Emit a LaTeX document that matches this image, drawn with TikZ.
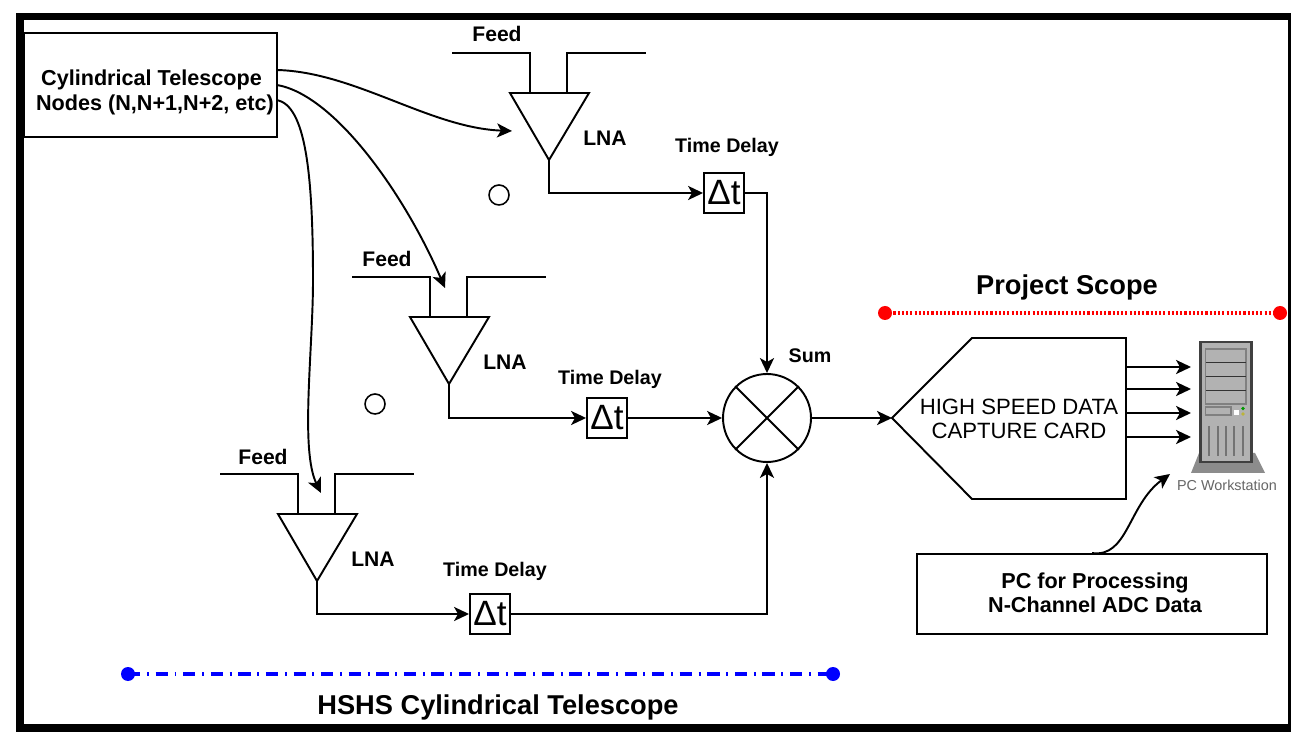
\documentclass[tikz,border=0pt]{standalone}
\usepackage{fontspec}
\setmainfont{Liberation Sans}
\usetikzlibrary{arrows.meta}
\tikzset{
    wire/.style={line width=1.1pt, black},
    sig/.style={wire, -{Stealth[length=8.5pt,width=8pt,inset=2.2pt]}},
    box/.style={draw, line width=1.1pt, inner sep=0pt},
    lbl/.style={font=\bfseries\fontsize{12}{13.8}\selectfont, align=center, inner sep=0pt},
    smalllbl/.style={font=\bfseries\fontsize{11.2}{13}\selectfont, inner sep=0pt},
    biglbl/.style={font=\bfseries\fontsize{15.5}{18}\selectfont, inner sep=0pt},
    dly/.style={box, minimum size=0.8cm, font=\fontsize{20}{20}\selectfont},
    spot/.style={draw, circle, line width=0.9pt, minimum size=0.4cm, inner sep=0pt},
    towerline/.style={line width=0.9pt, black!55},
}
\begin{document}
\begin{tikzpicture}[x=0.02cm, y=-0.02cm]
    \useasboundingbox (0,0) rectangle (1291,732);
    \fill[white] (0,0) rectangle (1291,732);
    \fill[black] (16,13) rectangle (1291,732);
    \fill[white] (24,20) rectangle (1288,724);

    % Nodos del telescopio
    \node[box, minimum width=5.06cm, minimum height=2.08cm] (nodes) at (150.5,85) {};
    \node[lbl, font=\bfseries\fontsize{12.3}{14.2}\selectfont] (nodeslab) at (155,92)
        {\hspace*{-4pt}Cylindrical Telescope\\Nodes (N,N+1,N+2, etc)};

    % Sumador
    \node[draw, circle, line width=1.1pt, minimum size=1.76cm, inner sep=0pt] (sum) at (767,418) {};
    \draw[wire] (sum.north west) -- (sum.south east);
    \draw[wire] (sum.north east) -- (sum.south west);
    \node[smalllbl] (sumlab) at (810,356) {Sum};

    % Ramas: alimentador, LNA y retardo
    \foreach \n/\xo/\yo/\xf/\yf/\xd/\yd/\xl/\yl in {1/549/93/497/34/724/193/727/146, 2/449/317/387/259/607/418/610/378, 3/317/514/263/457/490/614/495/570} {
        \coordinate (tip\n) at (\xo, \yo+67);
        \coordinate (left\n) at (\xo-39, \yo);
        \coordinate (right\n) at (\xo+40, \yo);
        \draw[wire] (left\n) -- (right\n) -- (tip\n) -- cycle;
        \draw[wire] (\xo-97, \yo-40) -- (\xo-19, \yo-40) -- (\xo-19, \yo);
        \draw[wire] (\xo+18, \yo) -- (\xo+18, \yo-40) -- (\xo+97, \yo-40);
        \node[lbl] (feed\n) at (\xf, \yf) {Feed};
        \node[lbl] (lna\n) at (\xo+56, \yo+45) {LNA};
        \node[dly] (dly\n) at (\xd, \yd) {Δt};
        \node[smalllbl] (dlylab\n) at (\xl, \yl+1) {Time Delay};
        \draw[sig] (tip\n) |- (dly\n);
    }

    % Salidas hacia el sumador
    \draw[sig] (dly1) -| (sum);
    \draw[sig] (dly2) -- (sum);
    \draw[sig] (dly3) -| (sum);

    % Puntos suspensivos
    \node[spot] (gap1) at (499,195) {};
    \node[spot] (gap2) at (375,404) {};

    % Curvas desde los nodos
    \coordinate (in1) at (512,131);
    \coordinate (in2) at (445,288);
    \coordinate (in3) at (321,493);
    \draw[sig] (277,70) .. controls (355,72) and (430,128) .. (in1);
    \draw[sig] (277,85) .. controls (335,95) and (405,195) .. (in2);
    \draw[sig] (277,100) .. controls (305,106) and (313,170) .. (313,280)
        .. controls (313,350) and (300,450) .. (in3);

    % Tarjeta de captura
    \node[lbl, font=\fontsize{12.6}{14}\selectfont] (card) at (1019,419) {HIGH SPEED DATA\\CAPTURE CARD};
    \coordinate (cardtip) at (892,418);
    \draw[wire] (cardtip) -- (972,338) -- (1126,338) -- (1126,499) -- (972,499) -- cycle;
    \draw[sig] (sum) -- (cardtip);

    % Estación de trabajo
    \fill[black!45] (1199,453) -- (1255,453) -- (1265,473) -- (1191,473) -- cycle;
    \filldraw[fill=black!30, draw=black!75, line width=1.2pt] (1200.5,342) rectangle (1251.5,462);
    \filldraw[fill=black!30, draw=black!50, line width=0.9pt] (1205.5,349) rectangle (1246,404);
    \foreach \yv in {362.5, 376.5, 390.5} {
        \draw[line width=0.7pt, black!80] (1205.5,\yv) -- (1246,\yv);
    }
    \filldraw[fill=black!30, draw=black!50, line width=0.9pt] (1205.5,407) rectangle (1231,415);
    \fill[white] (1234,410) rectangle (1239,415);
    \fill[green!60!black] (1243,408.5) circle (1.8);
    \fill[yellow!70!black] (1243,414) circle (1.8);
    \foreach \xv in {1209, 1218, 1226, 1234, 1243} {
        \draw[towerline] (\xv,426) -- (\xv,456);
    }
    \node[inner sep=0pt, text=black!60, font=\fontsize{8.2}{9}\selectfont] (pclab) at (1227,485) {PC Workstation};

    % Líneas de datos
    \foreach \yv in {367, 389, 413, 437} {
        \draw[sig] (1127,\yv) -- (1191,\yv);
    }

    % Caja de procesamiento
    \node[box, minimum width=7cm, minimum height=1.6cm] (pcbox) at (1092,594) {};
    \node[lbl, font=\bfseries\fontsize{12.3}{13.8}\selectfont] (pcboxlab) at (1095,593)
        {PC for Processing\\N-Channel ADC Data};
    \coordinate (pcin) at (1170,474);
    \draw[sig] (pcbox.north) .. controls (1128,558) and (1128,505) .. (pcin);

    % Alcances
    \coordinate (redA) at (885,313);
    \coordinate (redB) at (1280,313);
    \draw[red, line width=2pt, dash pattern=on 1.2pt off 1.2pt] (redA) -- (redB);
    \fill[red] (redA) circle (7) (redB) circle (7);
    \node[biglbl] (scope) at (1067,287) {Project Scope};

    \coordinate (blueA) at (128,674);
    \coordinate (blueB) at (833,674);
    \draw[blue, line width=2pt, dash pattern=on 7pt off 3.8pt on 1.1pt off 3.8pt] (blueA) -- (blueB);
    \fill[blue] (blueA) circle (7) (blueB) circle (7);
    \node[biglbl] (hshs) at (498,707) {HSHS Cylindrical Telescope};
\end{tikzpicture}
\end{document}
